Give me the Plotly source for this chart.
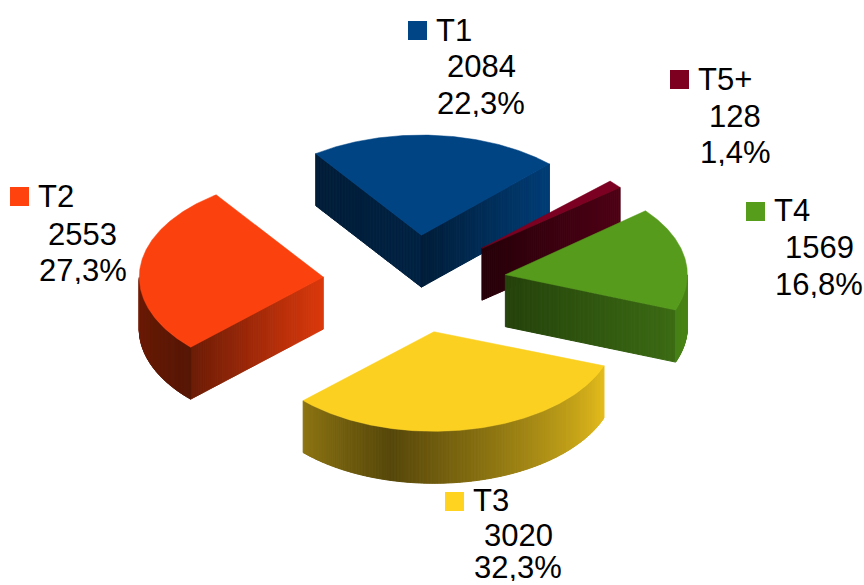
import math
import plotly.graph_objects as go

# ---- data ----
categories = ["T1", "T5+", "T4", "T3", "T2"]
counts = [2084, 128, 1569, 3020, 2553]
percent_labels = ["22,3%", "1,4%", "16,8%", "32,3%", "27,3%"]
colors = ["#004586", "#7e0021", "#579d1c", "#ffd320", "#ff420e"]

# ---- pie projection ----
CX, CY = 414, 284
TILT = 0.55
PULL, DEPTH = 89, 52
START = -36.3

# per-slice perspective correction: (dx, dy, rotation, radius)
PERSPECTIVE = {
    "T1": (1.5, 0, 0.8, 182),
    "T5+": (3.5, -2, 2.5, 177),
    "T4": (4, 0, 1.5, 182),
    "T3": (0.4, 0, 0.8, 181),
    "T2": (-2, -3, 0.7, 184),
}

# wall shading: multipliers along each wall (start wall, rim stops, end wall)
SHADE = {
    "T1": {"start": (0.5, 0.42), "rim": [(0, 0.8), (1, 0.8)], "end": (0.88, 0.42)},
    "T5+": {"start": (0.5, 0.5), "rim": [(0, 0.7), (1, 0.7)], "end": (0.62, 0.3)},
    "T4": {"start": (0.5, 0.5), "rim": [(0, 0.95), (1, 0.82)], "end": (0.68, 0.42)},
    "T3": {"start": (0.8, 0.8), "rim": [(0, 0.9), (0.72, 0.34), (1, 0.55)], "end": (0.5, 0.5)},
    "T2": {"start": (0.86, 0.42), "rim": [(0, 0.34), (1, 0.55)], "end": (0.5, 0.5)},
}
DRAW_ORDER = ["T1", "T5+", "T4", "T2", "T3"]

# legend/label placement: square left, square top, text-centre x, baselines
LABEL_POS = {
    "T1": (408, 21, 481, (41, 77, 114)),
    "T5+": (670, 70, 735, (90, 127, 163)),
    "T4": (746, 202, 819, (221, 258, 295)),
    "T3": (445, 492, 518, (511, 546, 578)),
    "T2": (10, 187, 82.5, (207, 245, 281)),
}
FONT = "Liberation Sans, Arial, sans-serif"
FS = 31


def shade(hex_color, k):
    r, g, b = (int(hex_color[i:i + 2], 16) for i in (1, 3, 5))
    return f"rgb({r * k:.0f},{g * k:.0f},{b * k:.0f})"


def interp(stops, t):
    for (t0, v0), (t1, v1) in zip(stops, stops[1:]):
        if t <= t1:
            return v0 + (v1 - v0) * (t - t0) / (t1 - t0)
    return stops[-1][1]


def project(angle, r):
    a = math.radians(angle)
    return r * math.sin(a), -r * math.cos(a) * TILT


fig = go.Figure()


def poly(xs, ys, color, line_w=1.0):
    fig.add_trace(go.Scatter(
        x=xs, y=ys, mode="lines", fill="toself", fillcolor=color,
        line=dict(color=color, width=line_w), hoverinfo="skip", showlegend=False))


total = sum(counts)
wedges = {}
angle = START
for name, value, color in zip(categories, counts, colors):
    sweep = 360 * value / total
    wedges[name] = (angle, angle + sweep, color)
    angle += sweep

for name in DRAW_ORDER:
    a0, a1, color = wedges[name]
    ox, oy = project((a0 + a1) / 2, PULL)
    dx, dy, rot, radius = PERSPECTIVE[name]
    ax, ay = CX + ox + dx, CY + oy + dy
    a0 += rot
    a1 += rot
    n_arc = max(int((a1 - a0) / 0.5), 2)
    arc = []
    for i in range(n_arc + 1):
        px, py = project(a0 + (a1 - a0) * i / n_arc, radius)
        arc.append((ax + px, ay + py))

    def wall(p, q, k):
        if q[0] - p[0] < 0:  # faces the viewer
            poly([p[0], q[0], q[0], p[0], p[0]],
                 [p[1], q[1], q[1] + DEPTH, p[1] + DEPTH, p[1]], shade(color, k))

    s = SHADE[name]
    apex = (ax, ay)
    strips = 70
    # apex -> arc start
    for i in range(strips):
        t0, t1 = i / strips, (i + 1) / strips
        p = (apex[0] + (arc[0][0] - apex[0]) * t0, apex[1] + (arc[0][1] - apex[1]) * t0)
        q = (apex[0] + (arc[0][0] - apex[0]) * t1, apex[1] + (arc[0][1] - apex[1]) * t1)
        wall(p, q, s["start"][0] + (s["start"][1] - s["start"][0]) * t0)
    # arc end -> apex
    for i in range(strips):
        t0, t1 = i / strips, (i + 1) / strips
        p = (arc[-1][0] + (apex[0] - arc[-1][0]) * t0, arc[-1][1] + (apex[1] - arc[-1][1]) * t0)
        q = (arc[-1][0] + (apex[0] - arc[-1][0]) * t1, arc[-1][1] + (apex[1] - arc[-1][1]) * t1)
        wall(p, q, s["end"][0] + (s["end"][1] - s["end"][0]) * t0)
    # rim
    for i in range(n_arc):
        wall(arc[i], arc[i + 1], interp(s["rim"], (i + 0.5) / n_arc))
    # top
    xs = [ax] + [p[0] for p in arc] + [ax]
    ys = [ay] + [p[1] for p in arc] + [ay]
    poly(xs, ys, shade(color, 0.985), 0.5)

# labels
annotations = []
for name, value, pct, color in zip(categories, counts, percent_labels, colors):
    sx, sy, cx, base = LABEL_POS[name]
    fig.add_trace(go.Scatter(
        x=[sx + 9.5], y=[sy + 9.5], mode="markers",
        marker=dict(symbol="square", size=19, color=color, line=dict(width=0)),
        hoverinfo="skip", showlegend=False))
    texts = [(name, sx + 27, "left", base[0]),
             (str(value), cx, "center", base[1]),
             (pct, cx, "center", base[2])]
    for txt, x, anchor, b in texts:
        annotations.append(dict(
            x=x, y=b - 0.35 * FS, text=txt, xref="x", yref="y", showarrow=False,
            xanchor=anchor, yanchor="middle", height=28,
            font=dict(family=FONT, size=FS, color="#000000"), borderpad=0))

fig.update_layout(
    width=864, height=585, margin=dict(l=0, r=0, t=0, b=0),
    paper_bgcolor="#ffffff", plot_bgcolor="#ffffff", showlegend=False,
    xaxis=dict(range=[0, 864], visible=False, fixedrange=True),
    yaxis=dict(range=[585, 0], visible=False, fixedrange=True),
    annotations=annotations,
)
fig.write_html("out.html", config={"displayModeBar": False},
               post_script="document.body.style.margin='0';")
